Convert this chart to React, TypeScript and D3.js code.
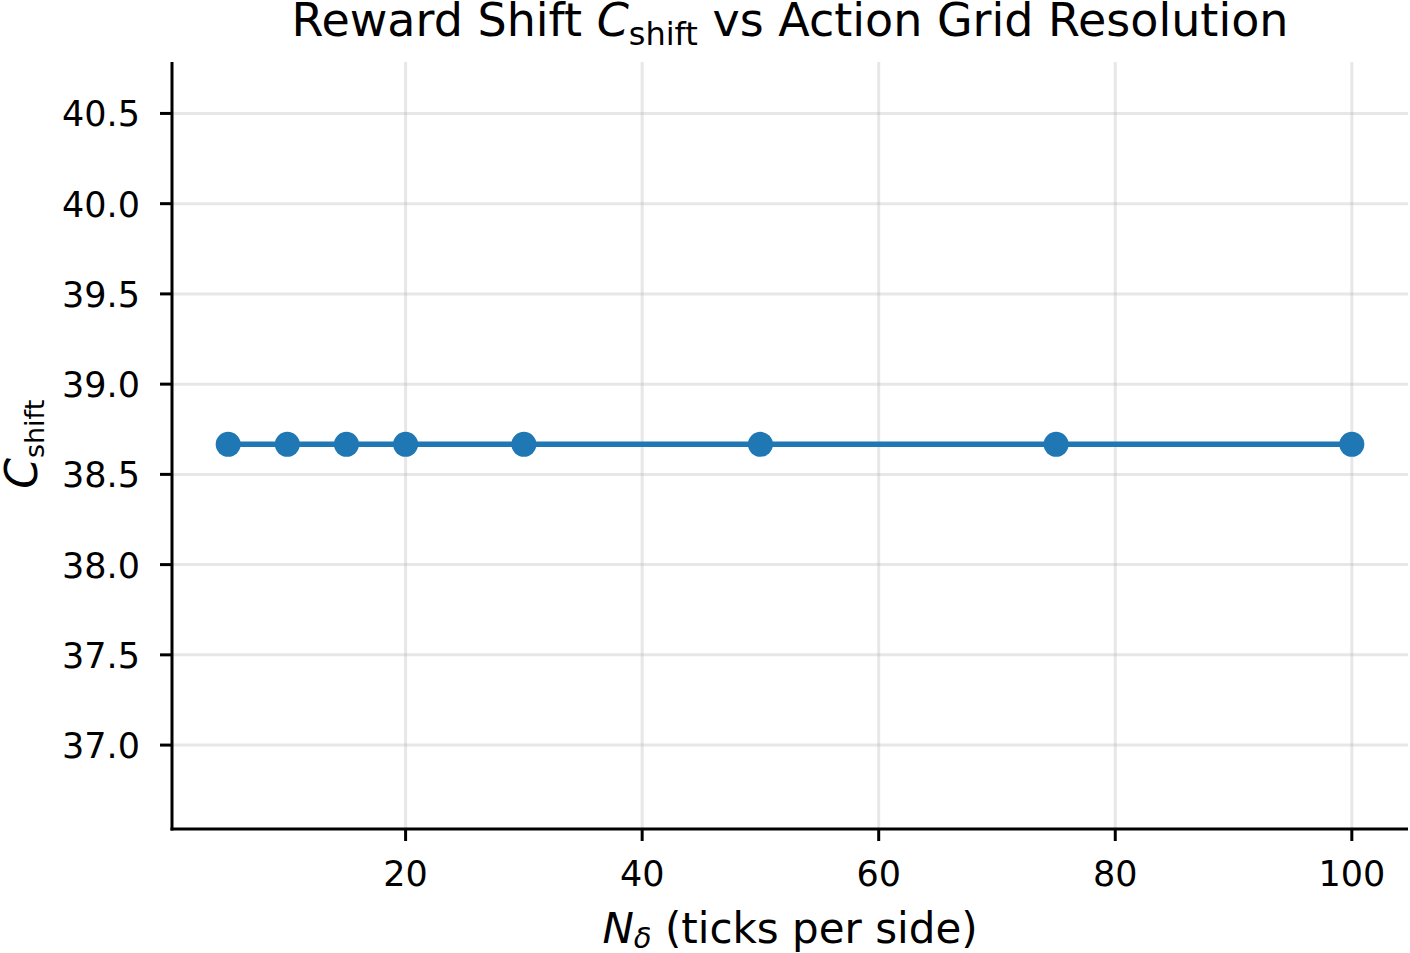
import React from "react";
import * as d3 from "d3";

const W = 1410;
const H = 953;

const gridSizes = [5, 10, 15, 20, 30, 50, 75, 100];
const cShift = [38.6667, 38.6667, 38.6667, 38.6667, 38.6667, 38.6667, 38.6667, 38.6667];
const xTicks = [20, 40, 60, 80, 100];
const yTicks = [37.0, 37.5, 38.0, 38.5, 39.0, 39.5, 40.0, 40.5];

const margin = {top: 62, right: 2, bottom: 124, left: 172};
const BLUE = "#1f77b4";
const FONT = "DejaVu Sans";

const App = () => {
    const xScale = d3.scaleLinear().domain([0.25, 104.75]).range([margin.left, W - margin.right]);
    const yScale = d3.scaleLinear().domain([36.535, 40.785]).range([H - margin.bottom, margin.top]);

    const pts: [number, number][] = gridSizes.map((n, i) => [n, cShift[i]]);
    const line = d3.line<[number, number]>()
        .x((d) => xScale(d[0]))
        .y((d) => yScale(d[1]));

    const bottom = H - margin.bottom;
    const midX = (margin.left + W - margin.right) / 2;

    return (
        <svg width={W} height={H} style={{position: "absolute", left: 0, top: 0}} fontFamily={FONT}>
            <rect width={W} height={H} fill="white" />
            {/* grid */}
            {xTicks.map((t) => (
                <line key={"gx" + t} x1={xScale(t)} x2={xScale(t)} y1={margin.top} y2={bottom}
                    stroke="#b0b0b0" strokeOpacity={0.3} strokeWidth={3} />
            ))}
            {yTicks.map((t) => (
                <line key={"gy" + t} x1={margin.left} x2={W - margin.right} y1={yScale(t)} y2={yScale(t)}
                    stroke="#b0b0b0" strokeOpacity={0.3} strokeWidth={3} />
            ))}
            {/* data */}
            <path d={line(pts) || ""} fill="none" stroke={BLUE} strokeWidth={5.5} />
            {pts.map((d, i) => (
                <circle key={i} cx={xScale(d[0])} cy={yScale(d[1])} r={12.5} fill={BLUE} />
            ))}
            {/* spines */}
            <line x1={margin.left} x2={margin.left} y1={margin.top} y2={bottom + 1.5} stroke="black" strokeWidth={3} />
            <line x1={margin.left - 1.5} x2={W - margin.right} y1={bottom} y2={bottom} stroke="black" strokeWidth={3} />
            {/* x ticks */}
            {xTicks.map((t) => (
                <g key={"xt" + t} transform={"translate(" + xScale(t) + "," + bottom + ")"}>
                    <line y1={0} y2={12} stroke="black" strokeWidth={3} />
                    <text y={57} textAnchor="middle" fontSize={35}>{t}</text>
                </g>
            ))}
            {/* y ticks */}
            {yTicks.map((t) => (
                <g key={"yt" + t} transform={"translate(" + margin.left + "," + yScale(t) + ")"}>
                    <line x1={0} x2={-12} stroke="black" strokeWidth={3} />
                    <text x={-32} y={13} textAnchor="end" fontSize={35}>{t.toFixed(1)}</text>
                </g>
            ))}
            {/* x label */}
            <text x={midX} y={943} textAnchor="middle" fontSize={42}>
                <tspan fontStyle="italic">N</tspan>
                <tspan fontStyle="italic" fontSize={29} dy={5}>δ</tspan>
                <tspan dy={-5}> (ticks per side)</tspan>
            </text>
            {/* y label */}
            <text transform={"translate(37," + yScale(38.6667) + ") rotate(-90)"} textAnchor="middle" fontSize={44}>
                <tspan fontStyle="italic">C</tspan>
                <tspan fontSize={27} dy={7}>shift</tspan>
            </text>
            {/* title */}
            <text x={midX} y={36} textAnchor="middle" fontSize={46}>
                <tspan>Reward Shift </tspan>
                <tspan fontStyle="italic">C</tspan>
                <tspan fontSize={32} dy={9}>shift</tspan>
                <tspan dy={-9}> vs Action Grid Resolution</tspan>
            </text>
        </svg>
    );
};

export default App;
